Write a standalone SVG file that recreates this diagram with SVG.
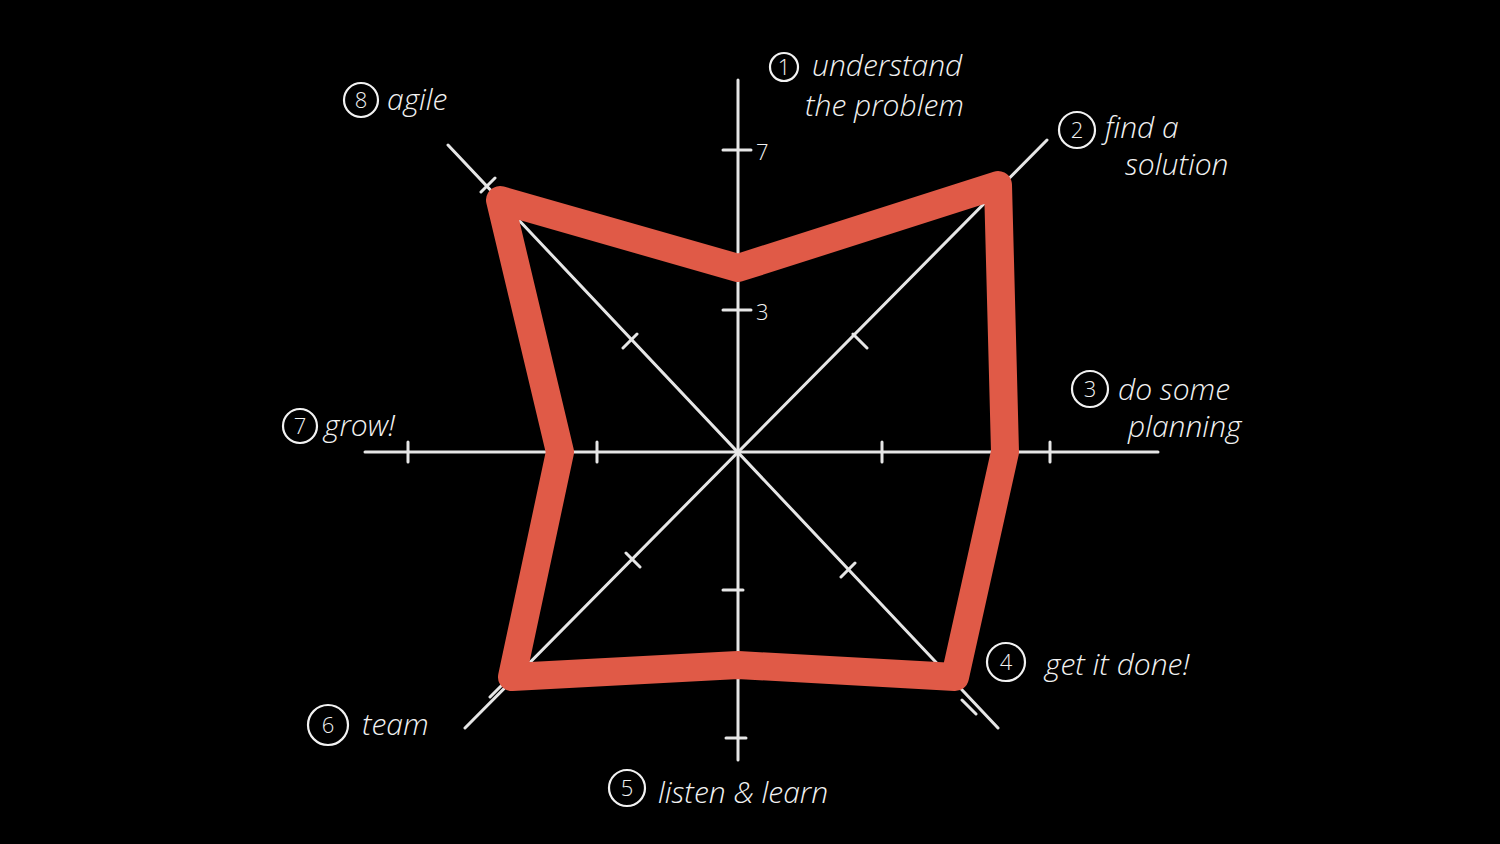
<svg xmlns="http://www.w3.org/2000/svg" width="1500" height="844" viewBox="0 0 1500 844">
<style>
.ax{stroke:#e6e6e6;stroke-width:3;fill:none;stroke-linecap:round}
.t{fill:#f2f2f2;font-family:"Open Sans","DejaVu Sans",sans-serif;font-size:30px;font-weight:300;font-style:italic}
.n{fill:#f2f2f2;font-family:"Open Sans","DejaVu Sans",sans-serif;font-size:22px;font-weight:300;text-anchor:middle}
.c{fill:none;stroke:#f2f2f2;stroke-width:2.2}
</style>
<rect width="1500" height="844" fill="#000"/>
<g id="connectors">
<g class="ax">
<line x1="738" y1="80" x2="738" y2="760"/>
<line x1="365" y1="452" x2="1158" y2="452"/>
<line x1="448" y1="145" x2="998" y2="728"/>
<line x1="1047" y1="140" x2="465" y2="728"/>
<path d="M723 150h28M723 310h28M723 590h20M726 738h20M408 442v20M597 442v20M882 442v20M1050 442v20M481 192l14 -14M623 348l14 -14M853 334l14 14M626 553l14 14M841 577l14 -14M490 697l14 -14M962 700l14 14"/>
</g>
<polygon points="500,200 738,268 998,185 1005,452 955,677 738,665 512,677 560,452" fill="none" stroke="#e05a47" stroke-width="28" stroke-linejoin="round"/>
</g>
<text class="n" x="756" y="160" style="text-anchor:start">7</text>
<text class="n" x="756" y="320" style="text-anchor:start">3</text>
<g id="n1"><circle class="c" cx="784" cy="67" r="14"/><text class="n" x="784" y="75">1</text><text class="t" x="812" y="76">understand</text><text class="t" x="805" y="116">the problem</text></g>
<g id="n2"><circle class="c" cx="1077" cy="130" r="18"/><text class="n" x="1077" y="138">2</text><text class="t" x="1105" y="138">find a</text><text class="t" x="1125" y="175">solution</text></g>
<g id="n3"><circle class="c" cx="1090" cy="389" r="18"/><text class="n" x="1090" y="397">3</text><text class="t" x="1118" y="400">do some</text><text class="t" x="1128" y="437">planning</text></g>
<g id="n4"><circle class="c" cx="1006" cy="662" r="19"/><text class="n" x="1006" y="670">4</text><text class="t" x="1045" y="675">get it done!</text></g>
<g id="n5"><circle class="c" cx="627" cy="788" r="18"/><text class="n" x="627" y="796">5</text><text class="t" x="658" y="803">listen &amp; learn</text></g>
<g id="n6"><circle class="c" cx="328" cy="725" r="20"/><text class="n" x="328" y="733">6</text><text class="t" x="362" y="735">team</text></g>
<g id="n7"><circle class="c" cx="300" cy="426" r="17"/><text class="n" x="300" y="434">7</text><text class="t" x="324" y="436">grow!</text></g>
<g id="n8"><circle class="c" cx="361" cy="100" r="17"/><text class="n" x="361" y="108">8</text><text class="t" x="387" y="110">agile</text></g>
</svg>
